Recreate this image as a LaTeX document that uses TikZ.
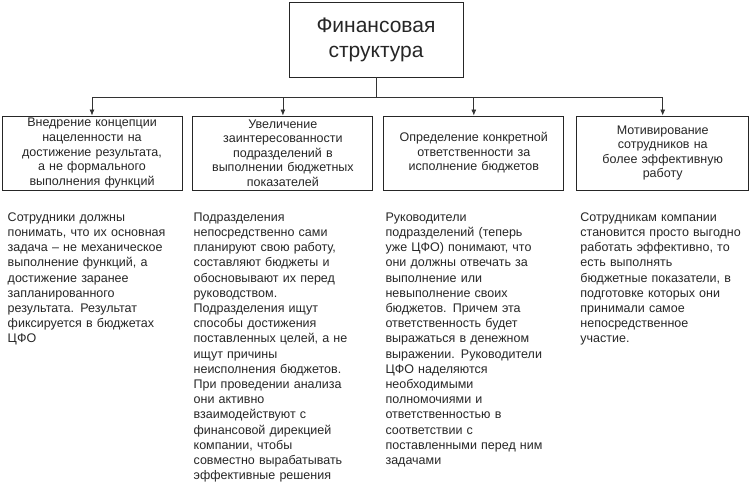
\documentclass[tikz,border=0pt]{standalone}
\usepackage{fontspec}
\setmainfont{Liberation Sans}
\usetikzlibrary{arrows.meta}
\usetikzlibrary{positioning}

\begin{document}
\begin{tikzpicture}[x=1pt, y=-1pt,
      head/.style={rectangle, draw=black!85, line width=0.9pt, minimum width=174pt, minimum height=75pt, align=center, font=\fontsize{21}{25}\selectfont, text=black!85},
      goal/.style={rectangle, draw=black!85, line width=0.9pt, minimum width=180pt, minimum height=74pt, text width=176pt, inner sep=1pt, align=center, font=\fontsize{12.5}{14.6}\selectfont, text=black!85},
      desc/.style={anchor=north west, inner sep=0pt, text width=185pt, align=left, font=\fontsize{12.5}{15.2}\selectfont, text=black!85},
      arrow/.style={-{Latex[length=6pt,width=5pt]}, line width=0.8pt, draw=black!80}
      ]
      \useasboundingbox (0,0) rectangle (751,490);

      % Nodes
      \node[head] (fin) at (376,39.5) {Финансовая\\структура};

      \node[goal] (b1) at (92,153) {Внедрение концепции\\нацеленности на\\достижение результата,\\а не формального\\выполнения функций};
      \node[goal, right=10pt of b1] (b2) {Увеличение\\заинтересованности\\подразделений в\\выполнении бюджетных\\показателей};
      \node[goal, right=10pt of b2] (b3) {Определение конкретной\\ответственности за\\исполнение бюджетов};
      \node[goal, right=12pt of b3, minimum width=172pt, text width=168pt] (b4) {Мотивирование\\сотрудников на\\более эффективную\\работу};

      \node[desc] (d1) at ([xshift=6pt,yshift=-22pt]b1.south west) {Сотрудники должны\\понимать, что их основная\\задача – не механическое\\выполнение функций, а\\достижение заранее\\запланированного\\результата. Результат\\фиксируется в бюджетах\\ЦФО};
      \node[desc] (d2) at ([xshift=1pt,yshift=-22pt]b2.south west) {Подразделения\\непосредственно сами\\планируют свою работу,\\составляют бюджеты и\\обосновывают их перед\\руководством.\\Подразделения ищут\\способы достижения\\поставленных целей, а не\\ищут причины\\неисполнения бюджетов.\\При проведении анализа\\они активно\\взаимодействуют с\\финансовой дирекцией\\компании, чтобы\\совместно вырабатывать\\эффективные решения};
      \node[desc] (d3) at ([xshift=2pt,yshift=-22pt]b3.south west) {Руководители\\подразделений (теперь\\уже ЦФО) понимают, что\\они должны отвечать за\\выполнение или\\невыполнение своих\\бюджетов. Причем эта\\ответственность будет\\выражаться в денежном\\выражении. Руководители\\ЦФО наделяются\\необходимыми\\полномочиями и\\ответственностью в\\соответствии с\\поставленными перед ним\\задачами};
      \node[desc] (d4) at ([xshift=4pt,yshift=-22pt]b4.south west) {Сотрудникам компании\\становится просто выгодно\\работать эффективно, то\\есть выполнять\\бюджетные показатели, в\\подготовке которых они\\принимали самое\\непосредственное\\участие.};

      % Arrows
      \draw[line width=0.8pt, draw=black!80] (fin.south) -- ++(0,20) coordinate (bus);
      \draw[arrow] (bus) -| (b1.north);
      \draw[arrow] (bus) -| (b2.north);
      \draw[arrow] (bus) -| (b3.north);
      \draw[arrow] (bus) -| (b4.north);

    \end{tikzpicture}
\end{document}
